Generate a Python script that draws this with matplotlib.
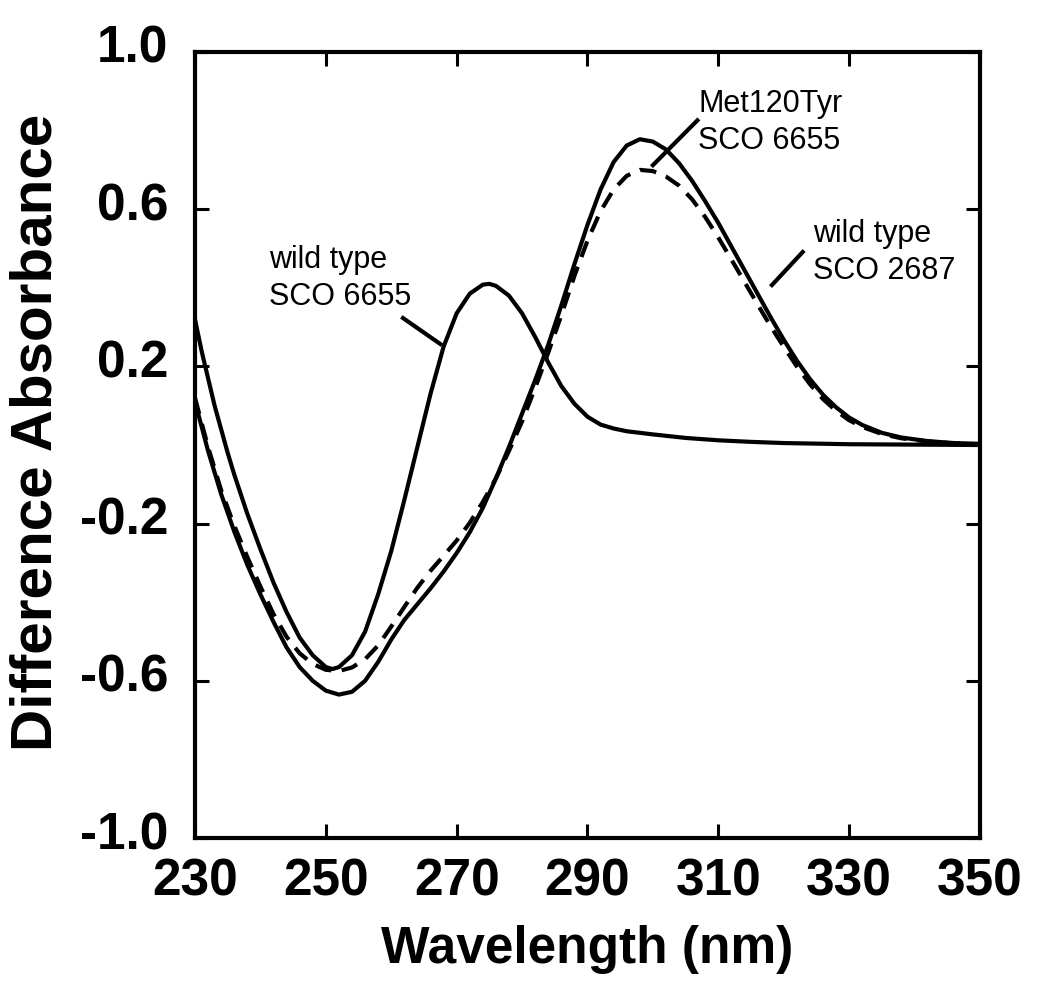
import matplotlib
matplotlib.use("Agg")
import matplotlib.pyplot as plt
from matplotlib.transforms import ScaledTranslation

plt.rcParams['font.family'] = ['Liberation Sans', 'DejaVu Sans']

# wild type SCO 6655 (solid, peak near 275 nm)
wl_6655 = [230, 231, 232, 233, 234, 235, 236, 237, 238, 240, 242, 244, 246, 248,
           250, 251, 252, 254, 256, 258, 260, 262, 264, 266, 268, 270, 272, 274,
           275, 276, 278, 280, 282, 284, 286, 288, 290, 292, 294, 296, 300, 305,
           310, 315, 320, 330, 340, 350]
abs_6655 = [0.32, 0.24, 0.17, 0.10, 0.04, -0.02, -0.075, -0.125, -0.175, -0.265,
            -0.35, -0.425, -0.49, -0.535, -0.565, -0.57, -0.565, -0.535, -0.475,
            -0.38, -0.27, -0.14, -0.005, 0.13, 0.25, 0.335, 0.385, 0.408, 0.41,
            0.405, 0.38, 0.335, 0.275, 0.21, 0.15, 0.105, 0.072, 0.052, 0.042,
            0.035, 0.027, 0.018, 0.012, 0.008, 0.005, 0.002, 0.001, 0.0]

# wild type SCO 2687 (solid, peak near 298 nm)
wl_2687 = [230, 232, 234, 236, 238, 240, 242, 244, 246, 248, 250, 252, 254, 256,
           258, 260, 262, 264, 266, 268, 270, 272, 274, 276, 278, 280, 282, 284,
           286, 288, 290, 292, 294, 296, 298, 300, 302, 304, 306, 308, 310, 312,
           314, 316, 318, 320, 322, 324, 326, 328, 330, 332, 335, 338, 342, 346, 350]
abs_2687 = [0.11, -0.015, -0.125, -0.22, -0.305, -0.38, -0.45, -0.515, -0.565,
            -0.60, -0.625, -0.635, -0.628, -0.60, -0.552, -0.495, -0.445, -0.405,
            -0.365, -0.322, -0.275, -0.222, -0.16, -0.085, -0.005, 0.08, 0.165,
            0.255, 0.355, 0.46, 0.56, 0.65, 0.72, 0.762, 0.778, 0.772, 0.752,
            0.717, 0.672, 0.62, 0.565, 0.505, 0.445, 0.385, 0.325, 0.268, 0.215,
            0.168, 0.128, 0.096, 0.07, 0.051, 0.031, 0.019, 0.01, 0.005, 0.003]

# Met120Tyr SCO 6655 (dashed)
wl_met = wl_2687
abs_met = [0.12, -0.005, -0.115, -0.205, -0.285, -0.36, -0.43, -0.488, -0.53,
           -0.557, -0.572, -0.575, -0.566, -0.545, -0.51, -0.462, -0.412, -0.363,
           -0.32, -0.282, -0.243, -0.198, -0.145, -0.085, -0.015, 0.06, 0.145,
           0.235, 0.33, 0.43, 0.52, 0.595, 0.65, 0.685, 0.70, 0.697, 0.683, 0.66,
           0.625, 0.58, 0.528, 0.472, 0.415, 0.358, 0.302, 0.25, 0.20, 0.155,
           0.117, 0.087, 0.063, 0.046, 0.028, 0.017, 0.009, 0.004, 0.002]

x_ticks = [230, 250, 270, 290, 310, 330, 350]
y_ticks = [-1.0, -0.6, -0.2, 0.2, 0.6, 1.0]

fig = plt.figure(figsize=(10.5, 9.92), dpi=100)
ax = fig.add_axes([0.1857, 0.1552, 0.7476, 0.7924])

lw = 3
ax.plot(wl_6655, abs_6655, color='black', lw=lw)
ax.plot(wl_2687, abs_2687, color='black', lw=lw)
ax.plot(wl_met, abs_met, color='black', lw=lw, dashes=(4, 2.5))

ax.set_xlim(230, 350)
ax.set_ylim(-1.0, 1.0)
ax.set_xticks(x_ticks)
ax.set_yticks(y_ticks)
ax.set_yticklabels([f"{v:.1f}" for v in y_ticks])

for s in ax.spines.values():
    s.set_linewidth(3)
ax.tick_params(direction='in', length=10, width=2.2, top=True, right=True,
               labelsize=37)
ax.tick_params(axis='x', pad=14)
ax.tick_params(axis='y', pad=19)
for lab in ax.get_xticklabels() + ax.get_yticklabels():
    lab.set_fontweight('bold')
for lab in ax.get_yticklabels():
    lab.set_transform(lab.get_transform() + ScaledTranslation(0, 8 / 100, fig.dpi_scale_trans))

ax.set_xlabel("Wavelength (nm)", fontsize=37, fontweight='bold', labelpad=13)
ax.set_ylabel("Difference Absorbance", fontsize=42, fontweight='bold')
ax.yaxis.set_label_coords(-0.167, 0.516)

# annotations with leader lines
ax.text(241.3, 0.424, "wild type\nSCO 6655", fontsize=22, ha='left', va='center',
        linespacing=1.3)
ax.plot([261.8, 267.5], [0.323, 0.257], color='black', lw=3)

ax.text(306.9, 0.82, "Met120Tyr\nSCO 6655", fontsize=22, ha='left', va='center',
        linespacing=1.3)
ax.plot([306.8, 300.0], [0.826, 0.712], color='black', lw=3)

ax.text(324.5, 0.49, "wild type\nSCO 2687", fontsize=22, ha='left', va='center',
        linespacing=1.3)
ax.plot([322.9, 318.2], [0.491, 0.407], color='black', lw=3)

fig.savefig("out.png", dpi=100)
